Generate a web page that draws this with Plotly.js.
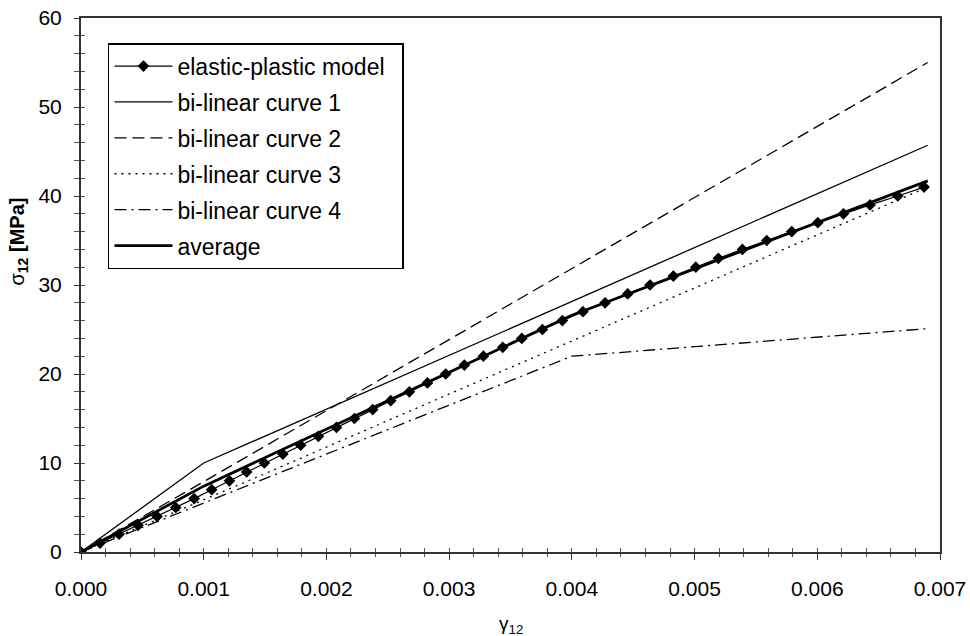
<!DOCTYPE html>
<html>
<head>
<meta charset="utf-8">
<script src="https://cdn.plot.ly/plotly-3.0.1.min.js"></script>
<style>
  html, body { margin: 0; padding: 0; background: #fff; }
  #chart { width: 970px; height: 636px; }
</style>
</head>
<body>
<div id="chart"></div>
<script>
// ---- data ----
const strainEP = [0, 0.000155, 0.00031, 0.000465, 0.00062, 0.000772, 0.000922, 0.001065, 0.00121, 0.00135,
  0.001494, 0.001645, 0.00179, 0.001934, 0.002082, 0.002228, 0.002377, 0.002524, 0.002676, 0.002823,
  0.002972, 0.003124, 0.003279, 0.003437, 0.003592, 0.00376, 0.003923, 0.00409, 0.004271, 0.004455,
  0.004637, 0.004827, 0.00501, 0.005194, 0.00539, 0.005588, 0.005792, 0.006004, 0.006213, 0.00643,
  0.006656, 0.00687];
const stressEP = [0, 1, 2, 3, 4, 5, 6, 7, 8, 9,
  10, 11, 12, 13, 14, 15, 16, 17, 18, 19,
  20, 21, 22, 23, 24, 25, 26, 27, 28, 29,
  30, 31, 32, 33, 34, 35, 36, 37, 38, 39,
  40, 41];

const strainC1 = [0, 0.001, 0.0069];
const stressC1 = [0, 10, 45.7];

const strainC2 = [0, 0.001, 0.0069];
const stressC2 = [0, 7.9, 55.0];

const strainC3 = [0, 0.0015, 0.0069];
const stressC3 = [0, 8.8, 41.0];

const strainC4 = [0, 0.004, 0.0069];
const stressC4 = [0, 22.0, 25.1];

const strainAvg = [0, 0.001, 0.004, 0.0069];
const stressAvg = [0, 7.4, 26.6, 41.7];

const seriesNames = ["elastic-plastic model", "bi-linear curve 1", "bi-linear curve 2",
  "bi-linear curve 3", "bi-linear curve 4", "average"];
const xTickVals = [0, 0.001, 0.002, 0.003, 0.004, 0.005, 0.006, 0.007];
const xTickText = ["0.000", "0.001", "0.002", "0.003", "0.004", "0.005", "0.006", "0.007"];
const yTickVals = [0, 10, 20, 30, 40, 50, 60];
const xTitle = "γ<sub>12</sub>";
const yTitle = "σ<sub><b>12</b></sub> <b>[MPa]</b>";

// ---- traces ----
const FONT = "Liberation Sans, Arial, sans-serif";
const PAD = "\u00a0\u00a0";  // right padding inside legend box
const traces = [
  { x: strainEP, y: stressEP, name: seriesNames[0] + PAD, mode: "lines+markers", legendgroup: "a",
    line: { color: "#000", width: 1.2 }, marker: { symbol: "diamond", size: 9, color: "#000" } },
  { x: strainC1, y: stressC1, name: seriesNames[1], mode: "lines", legendgroup: "b",
    line: { color: "#000", width: 1.3 } },
  { x: strainC2, y: stressC2, name: seriesNames[2], mode: "lines", legendgroup: "c",
    line: { color: "#000", width: 1.3, dash: "12px,6px" } },
  { x: strainC3, y: stressC3, name: seriesNames[3], mode: "lines", legendgroup: "d",
    line: { color: "#000", width: 1.3, dash: "2px,5px" } },
  { x: strainC4, y: stressC4, name: seriesNames[4], mode: "lines", legendgroup: "e",
    line: { color: "#000", width: 1.3, dash: "12px,5px,2px,5px" } },
  { x: strainAvg, y: stressAvg, name: seriesNames[5], mode: "lines", legendgroup: "f",
    line: { color: "#000", width: 2.8 } },
  { x: [], y: [], xaxis: "x2", yaxis: "y2", showlegend: false, hoverinfo: "skip" }
];

const axisCommon = {
  showgrid: false, zeroline: false,
  tickfont: { family: FONT, size: 21, color: "#000" }
};

const layout = {
  width: 970, height: 636,
  margin: { l: 81, r: 30, t: 18, b: 84 },
  paper_bgcolor: "#fff", plot_bgcolor: "#fff",
  showlegend: true,
  font: { family: FONT, color: "#000" },
  xaxis: Object.assign({}, axisCommon, {
    range: [0, 0.007], tickmode: "array", tickvals: xTickVals, ticktext: xTickText,
    ticks: "outside", ticklen: 6, tickwidth: 1, tickcolor: "#333",
    minor: { dtick: 0.0002, ticks: "outside", ticklen: 3, tickwidth: 1, tickcolor: "#555" },
    showline: true, linecolor: "#333", linewidth: 2, mirror: true,
    ticklabelstandoff: 11
  }),
  yaxis: Object.assign({}, axisCommon, {
    range: [0, 60], tickmode: "array", tickvals: yTickVals,
    ticks: "outside", ticklen: 5, tickwidth: 1, tickcolor: "#333",
    minor: { dtick: 2, ticks: "outside", ticklen: 5, tickwidth: 1, tickcolor: "#555" },
    showline: true, linecolor: "#333", linewidth: 2, mirror: true,
    ticklabelstandoff: 8
  }),
  xaxis2: { overlaying: "x", anchor: "y2", range: [0, 0.007], showgrid: false, zeroline: false,
    showticklabels: false, tickmode: "array", tickvals: xTickVals, ticks: "inside", ticklen: 4,
    tickcolor: "#555", minor: { dtick: 0.0002, ticks: "inside", ticklen: 4, tickcolor: "#555" } },
  yaxis2: { overlaying: "y", anchor: "x2", range: [0, 60], showgrid: false, zeroline: false,
    showticklabels: false, tickmode: "array", tickvals: yTickVals, ticks: "inside", ticklen: 4,
    tickcolor: "#555", minor: { dtick: 2, ticks: "inside", ticklen: 4, tickcolor: "#555" } },
  legend: {
    x: 0.0314, y: 0.953, xanchor: "left", yanchor: "top",
    bgcolor: "#fff", bordercolor: "#000", borderwidth: 1.5,
    font: { family: FONT, size: 23, color: "#000" },
    itemwidth: 58, tracegroupgap: 3
  },
  annotations: [
    { text: xTitle, xref: "paper", yref: "paper", x: 0.5, y: -0.137, xanchor: "center", yanchor: "middle",
      showarrow: false, font: { family: FONT, size: 19, color: "#000" } },
    { text: yTitle, xref: "paper", yref: "paper", x: -0.073, y: 0.582, xanchor: "center", yanchor: "middle",
      textangle: -90, showarrow: false, font: { family: FONT, size: 20, color: "#000" } }
  ]
};

Plotly.newPlot("chart", traces, layout, { staticPlot: true, displayModeBar: false });
</script>
</body>
</html>
